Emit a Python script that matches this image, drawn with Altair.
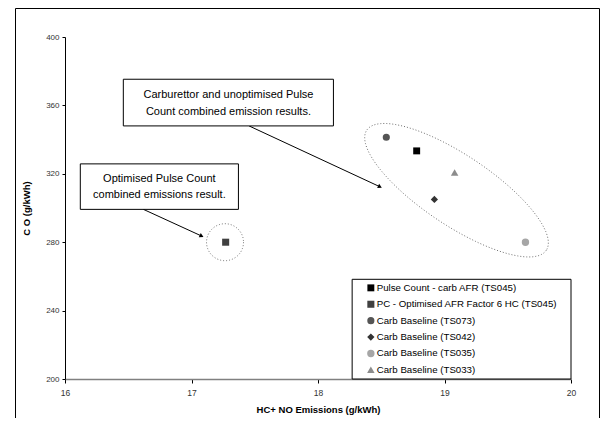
import altair as alt
import numpy as np
import pandas as pd

# ---- data ----
series = [
    "Pulse Count - carb AFR (TS045)",
    "PC -  Optimised AFR Factor 6 HC (TS045)",
    "Carb Baseline (TS073)",
    "Carb Baseline (TS042)",
    "Carb Baseline (TS035)",
    "Carb Baseline (TS033)",
]
hc_no = [18.78, 17.27, 18.54, 18.92, 19.64, 19.08]
co = [333.4, 280.0, 341.4, 305.0, 280.0, 320.8]

x_ticks = [16, 17, 18, 19, 20]
y_ticks = [200, 240, 280, 320, 360, 400]

box1_lines = ["Carburettor and unoptimised Pulse", "Count combined emission results."]
box2_lines = ["Optimised Pulse Count", "combined emissions result."]

# ---- styles ----
colors = ["#000000", "#404040", "#555555", "#333333", "#a6a6a6", "#8c8c8c"]
shapes = ["square", "square", "circle", "diamond", "circle", "triangle-up"]
sizes = [48, 56, 38, 42, 26, 38]

W, H = 506, 342
XD, YD = [16, 20], [200, 400]
PX_X = W / (XD[1] - XD[0])
PX_Y = H / (YD[1] - YD[0])
FONT = "Liberation Sans"

xs = alt.Scale(domain=XD, nice=False, zero=False)
ys = alt.Scale(domain=YD, nice=False, zero=False)

x_axis = alt.Axis(values=x_ticks, grid=False, domainColor="#808080", domainWidth=1.5,
                  tickColor="#000000", tickSize=4, labelFontSize=8.5, labelFont=FONT,
                  labelColor="#333333", labelPadding=5, labelFlush=False, titleFont=FONT,
                  titleFontSize=9.5, titleFontWeight="bold", titleColor="#000000",
                  titlePadding=8, format="d")
y_axis = alt.Axis(values=y_ticks, grid=False, domainColor="#000000", domainWidth=1,
                  tickColor="#000000", tickSize=3, labelFontSize=8, labelFont=FONT,
                  labelColor="#333333", labelPadding=3, labelFlush=False, titleFont=FONT,
                  titleFontSize=9.5, titleFontWeight="bold", titleColor="#000000",
                  titlePadding=14, format="d")
X_TITLE = "HC+ NO Emissions (g/kWh)"
Y_TITLE = "C O (g/kWh)"

def X(f):
    return alt.X(f, type="quantitative", scale=xs, axis=x_axis, title=X_TITLE)

def Y(f):
    return alt.Y(f, type="quantitative", scale=ys, axis=y_axis, title=Y_TITLE)

pts = pd.DataFrame({"series": series, "hc": hc_no, "co": co})

leg = alt.Legend(
    title=None, orient="none", legendX=301, legendY=246, padding=0,
    labelFontSize=9.7, labelFont=FONT, labelColor="#000000", symbolSize=30,
    symbolStrokeWidth=0, rowPadding=5.4, labelOffset=1, labelLimit=400,
)

points = alt.Chart(pts).mark_point(filled=True, opacity=1).encode(
    x=X("hc"),
    y=Y("co"),
    color=alt.Color("series:N", scale=alt.Scale(domain=series, range=colors), legend=leg),
    shape=alt.Shape("series:N", scale=alt.Scale(domain=series, range=shapes), legend=leg),
    size=alt.Size("series:N", scale=alt.Scale(domain=series, range=sizes), legend=None),
)

# outer frame, expressed in data units outside the plotted domain
frame_df = pd.DataFrame({
    "x": [XD[0] - 49.5 / PX_X], "x2": [XD[0] + 534.5 / PX_X],
    "y": [YD[1] + 28.5 / PX_Y], "y2": [YD[0] - 60 / PX_Y],
})
frame = alt.Chart(frame_df).mark_rect(fill="transparent", stroke="black", strokeWidth=1).encode(
    x=X("x"), x2="x2", y=Y("y"), y2="y2")

# legend frame (data units)
legbox = pd.DataFrame({"x": [18.27], "x2": [20.0], "y": [200.0], "y2": [258.3]})
legend_frame = alt.Chart(legbox).mark_rect(fill="white", stroke="black", strokeWidth=1).encode(
    x=X("x"), x2="x2", y=Y("y"), y2="y2")

# annotation boxes
boxes = pd.DataFrame({
    "x": [16.461, 16.121], "x2": [18.122, 17.371],
    "y": [375.3, 325.8], "y2": [348.0, 299.2],
})
box_marks = alt.Chart(boxes).mark_rect(fill="white", stroke="black", strokeWidth=1).encode(
    x=X("x"), x2="x2", y=Y("y"), y2="y2")

texts = pd.DataFrame({
    "t": box1_lines + box2_lines,
    "x": [17.292, 17.292, 16.746, 16.746],
    "y": [365.9, 356.2, 316.9, 307.4],
})
text_marks = alt.Chart(texts).mark_text(font=FONT, fontSize=11, color="#000000",
                                        align="center", baseline="middle").encode(
    x=X("x"), y=Y("y"), text="t:N")

# arrows
arrows = pd.DataFrame({
    "x": [17.455, 16.62], "y": [348.0, 299.2],
    "x2": [18.49, 17.08], "y2": [312.4, 283.6],
})
arrow_lines = alt.Chart(arrows).mark_rule(color="black", strokeWidth=1).encode(
    x=X("x"), y=Y("y"), x2="x2", y2="y2")
arrow_heads = alt.Chart(arrows).mark_point(shape="triangle-right", filled=True, color="black",
                                           size=22, angle=25, opacity=1).encode(
    x=X("x2"), y=Y("y2"))

# dotted ellipses
def ellipse(cx, cy, a, b, ang_deg, name, n=181):
    t = np.linspace(0, 2 * np.pi, n)
    th = np.radians(ang_deg)
    dx = a * np.cos(t) * np.cos(th) - b * np.sin(t) * np.sin(th)
    dy = a * np.cos(t) * np.sin(th) + b * np.sin(t) * np.cos(th)
    return pd.DataFrame({"x": cx + dx / PX_X, "y": cy - dy / PX_Y, "i": np.arange(n), "e": name})

ell = pd.concat([
    ellipse(19.095, 310.4, 108, 35, 33.8, "big"),
    ellipse(17.265, 280.0, 18.5, 18.5, 0, "small"),
])
ellipses = alt.Chart(ell).mark_line(color="#6e6e6e", strokeWidth=1, strokeDash=[1, 2]).encode(
    x=X("x"), y=Y("y"), order="i:Q", detail="e:N")

chart = alt.layer(
    frame, legend_frame, ellipses, arrow_lines, arrow_heads, box_marks, text_marks, points
).properties(
    width=W, height=H,
    background="white",
    autosize=alt.AutoSizeParams(type="none"),
    padding={"left": 57, "top": 29, "right": 29, "bottom": 39},
).configure_view(stroke="transparent", strokeWidth=0)

chart.save("out.html", embed_options={"renderer": "svg", "actions": False})
